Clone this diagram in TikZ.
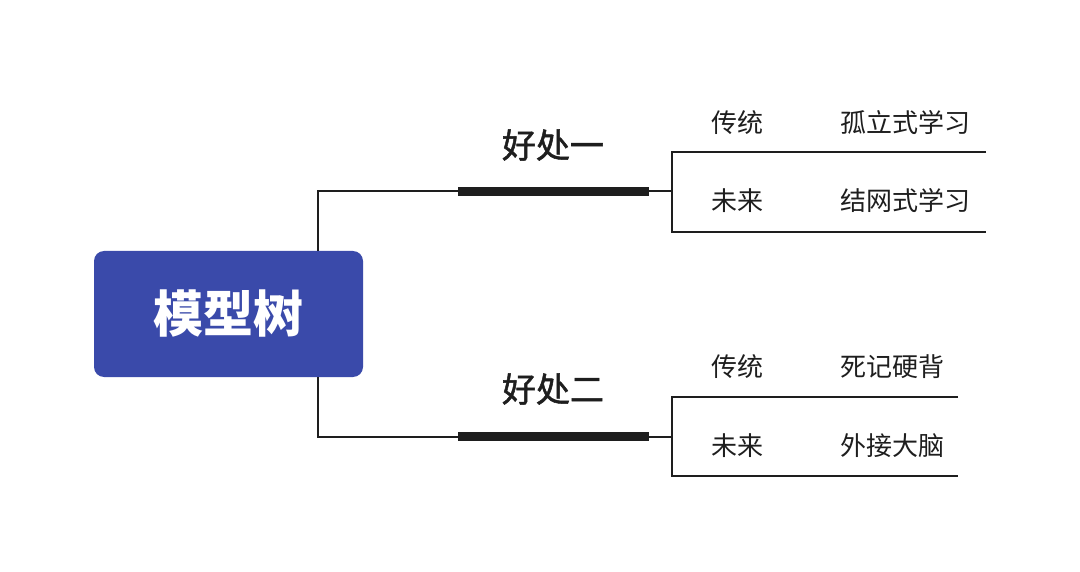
\documentclass[tikz,border=0pt]{standalone}
\usepackage{fontspec}
\newfontfamily\cjk{Noto Sans CJK SC}
\newfontfamily\cjkmid[FakeBold=1.5]{Noto Sans CJK SC}
\usetikzlibrary{positioning}
\definecolor{rootblue}{RGB}{58,74,170}
\definecolor{inkline}{RGB}{30,30,30}
\tikzset{
      rootbox/.style={
        rounded corners=10pt,
        fill=rootblue,
        text=white,
        minimum width=269pt,
        minimum height=126pt,
        inner sep=0pt,
        font=\cjk\bfseries\fontsize{50}{50}\selectfont
      },
      branchbar/.style={
        fill=inkline,
        minimum width=191pt,
        minimum height=9pt,
        inner sep=0pt
      },
      branchtext/.style={
        text=inkline,
        inner sep=0pt,
        font=\cjkmid\fontsize{34}{34}\selectfont
      },
      leaftext/.style={
        text=inkline,
        inner sep=0pt,
        font=\cjk\fontsize{26}{26}\selectfont
      },
      twig/.style={
        draw=inkline,
        line width=2pt
      }
    }
\begin{document}
\begin{tikzpicture}[x=1pt,y=-1pt]
    \useasboundingbox (0,0) rectangle (1080,572);
    \node[rootbox] (root) at (228.5,314) {模型树};
    \node[branchbar] (bar1) at (553.5,191.5) {};
    \node[branchbar] (bar2) at (553.5,436.5) {};
    \node[branchtext] (b1) at (553,145) {好处一};
    \node[branchtext] (b2) at (553,389) {好处二};
    \coordinate (rj) at (318,314);
    \coordinate (f1) at (672,191.5);
    \coordinate (f2) at (672,436.5);
    \coordinate (e11) at (986,152);
    \coordinate (e12) at (986,232);
    \coordinate (e21) at (958,397);
    \coordinate (e22) at (958,476);
    \node[leaftext] (k11) at (737,122.5) {传统};
    \node[leaftext] (v11) at (905,122.5) {孤立式学习};
    \node[leaftext] (k12) at (737,201) {未来};
    \node[leaftext] (v12) at (905,201) {结网式学习};
    \node[leaftext] (k21) at (737,367) {传统};
    \node[leaftext] (v21) at (892,367) {死记硬背};
    \node[leaftext] (k22) at (737,446) {未来};
    \node[leaftext] (v22) at (892,446) {外接大脑};
    \draw[twig] (root.north -| rj) |- (bar1.west);
    \draw[twig] (root.south -| rj) |- (bar2.west);
    \draw[twig] (bar1.east) -- (f1);
    \draw[twig] (bar2.east) -- (f2);
    \draw[twig] (e11) -| (f1) |- (e12);
    \draw[twig] (e21) -| (f2) |- (e22);
    \end{tikzpicture}
\end{document}
